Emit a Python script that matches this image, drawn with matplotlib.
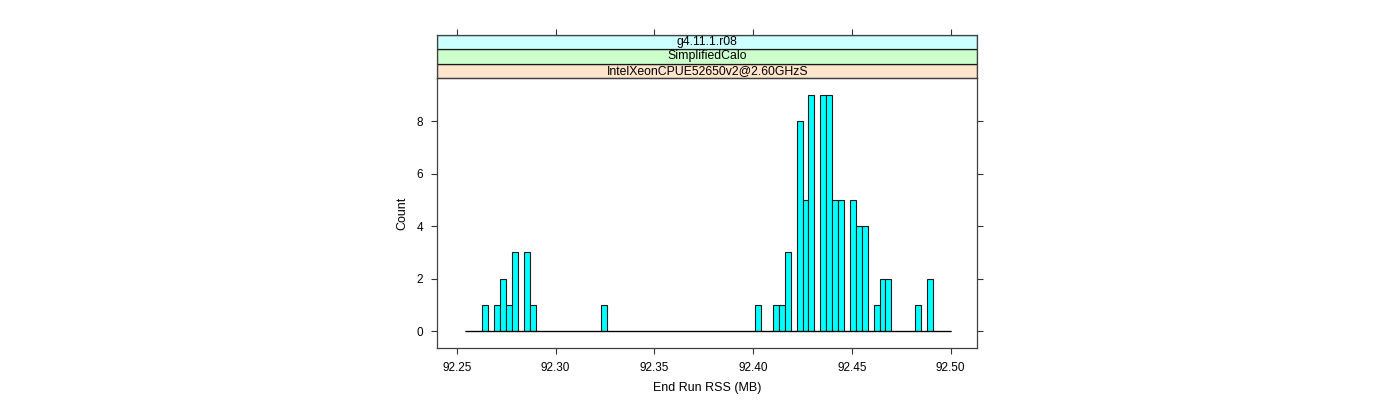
import matplotlib
matplotlib.use("Agg")
import matplotlib.pyplot as plt
from matplotlib.patches import Rectangle

# ---- data ----
bin_start = 92.254
bin_width = 0.003
counts = [0, 0, 0, 1, 0, 1, 2, 1, 3, 0,
          3, 1, 0, 0, 0, 0, 0, 0, 0, 0,
          0, 0, 0, 1, 0, 0, 0, 0, 0, 0,
          0, 0, 0, 0, 0, 0, 0, 0, 0, 0,
          0, 0, 0, 0, 0, 0, 0, 0, 0, 1,
          0, 0, 1, 1, 3, 0, 8, 5, 9, 0,
          9, 9, 5, 5, 0, 5, 4, 4, 0, 1,
          2, 2, 0, 0, 0, 0, 1, 0, 2, 0,
          0, 0]
x_ticks = [92.25, 92.30, 92.35, 92.40, 92.45, 92.50]
x_ticklabels = ["92.25", "92.30", "92.35", "92.40", "92.45", "92.50"]
y_ticks = [0, 2, 4, 6, 8]
strip_labels = ["IntelXeonCPUE52650v2@2.60GHzS", "SimplifiedCalo", "g4.11.1.r08"]
strip_colors = ["#ffe5cc", "#ccffcc", "#ccffff"]
x_label = "End Run RSS (MB)"
y_label = "Count"

plt.rcParams['font.family'] = ['Liberation Sans', 'DejaVu Sans']

W, H = 1400, 400
fig = plt.figure(figsize=(14, 4), dpi=100)

px_left, px_right = 437.3, 977.3
px_bottom, px_top = 347.7, 78.3
strip_top = 34.7

ax = fig.add_axes([px_left / W, 1 - px_bottom / H,
                   (px_right - px_left) / W, (px_bottom - px_top) / H])

edges = [bin_start + i * bin_width for i in range(len(counts) + 1)]
lefts = edges[:-1]
ax.bar(lefts, counts, width=bin_width, align='edge', color='#00ffff',
       edgecolor='#1a1a1a', linewidth=0.8)
ax.hlines(0, edges[0], edges[-1], color='black', linewidth=0.9)

ax.set_xlim(92.24018, 92.51346)
ax.set_ylim(-0.63, 9.63)
ax.set_xticks(x_ticks)
ax.set_xticklabels(x_ticklabels)
ax.set_yticks(y_ticks)
ax.tick_params(axis='both', direction='out', length=4.3, width=0.8,
               color='#333333', labelsize=8.5, pad=6)
ax.tick_params(axis='y', right=True, labelright=False)
ax.tick_params(axis='x', top=False)
for s in ax.spines.values():
    s.set_color('#404040')
    s.set_linewidth(0.9)
ax.set_xlabel(x_label, fontsize=9, labelpad=6)
ax.set_ylabel(y_label, fontsize=9, labelpad=6)

# strips
sax = fig.add_axes([px_left / W, 1 - px_top / H,
                    (px_right - px_left) / W, (px_top - strip_top) / H])
sax.set_xlim(ax.get_xlim())
sax.set_ylim(0, 3)
sax.set_xticks(x_ticks)
sax.tick_params(axis='x', top=True, bottom=False, labeltop=False,
                labelbottom=False, direction='out', length=4.3, width=0.8,
                color='#333333')
sax.set_yticks([])
x0, x1 = sax.get_xlim()
for i, (lab, col) in enumerate(zip(strip_labels, strip_colors)):
    sax.add_patch(Rectangle((x0, i), x1 - x0, 1, facecolor=col,
                            edgecolor='#1a1a1a', linewidth=0.9))
    sax.text((x0 + x1) / 2, i + 0.5, lab, ha='center', va='center',
             fontsize=8.8)
for s in sax.spines.values():
    s.set_color('#404040')
    s.set_linewidth(0.9)

fig.savefig("out.png", dpi=100, facecolor='white')
